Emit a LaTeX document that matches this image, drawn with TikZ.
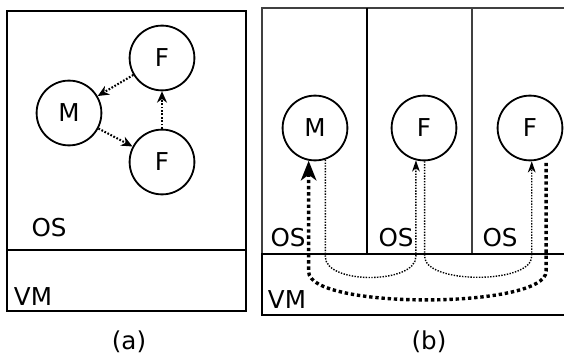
\documentclass[tikz,border=0pt]{standalone}
\usepackage{fontspec}
\setmainfont{DejaVu Sans}
\usetikzlibrary{arrows.meta,calc}

\tikzset{
  proc/.style={draw, circle, line width=1.3pt, minimum size=1.62cm, inner sep=0pt},
  msg/.style={line width=1.5pt, dash pattern=on 1.2pt off 1.2pt, -{Stealth[length=8pt,width=7pt,inset=2.5pt]}},
  thinmsg/.style={line width=1pt, dash pattern=on 1pt off 1pt, -{Stealth[length=8pt,width=5.5pt,inset=2.5pt]}},
  bigmsg/.style={line width=2.4pt, dash pattern=on 2.4pt off 2pt, -{Stealth[length=14pt,width=11pt,inset=4pt]}}
}

\begin{document}
\begin{tikzpicture}[x=0.025cm, y=-0.025cm, font=\fontsize{17.5}{20}\selectfont]
\useasboundingbox (0,0) rectangle (564,354);
% Panel (a): one OS on one VM
\draw[line width=1.2pt] (7,11) rectangle (246,311);
\draw[line width=1.2pt] (7,250) -- (246,250);
\node (osa) at (49,228) {OS};
\node (vma) at (33,297) {VM};
\node (capa) at (129,342) {(a)};
% Processes
\node[proc] (m1) at (69,113) {M};
\node[proc] (f1) at (162,58) {F};
\node[proc] (f2) at (162,162) {F};
\draw[msg] (f1) -- (m1);
\draw[msg] (m1) -- (f2);
\draw[msg] (f2) -- (f1);

% Panel (b): three OS on one VM
\draw[line width=0.8pt, black!75] (262,254) -- (262,8) -- (566,8);
\draw[line width=0.8pt] (367,8) -- (367,254);
\draw[line width=0.8pt, black!75] (472,8) -- (472,254);
\draw[line width=2pt] (566,254) -- (262,254) -- (262,315) -- (566,315);
\node (osb1) at (288,238) {OS};
\node (osb2) at (396,238) {OS};
\node (osb3) at (500,238) {OS};
\node (vmb) at (287,300) {VM};
\node (capb) at (429,342) {(b)};
% Processes
\node[proc] (m2) at (315,128) {M};
\node[proc] (f3) at (424,128) {F};
\node[proc] (f4) at (530,128) {F};
% Messages through the VM
\draw[thinmsg] (m2.-72) -- ++(0,97) .. controls +(0,28) and +(0,28) .. ($(f3.-104)+(0,96)$) -- (f3.-104);
\draw[thinmsg] (f3.-89) -- ++(0,95) .. controls +(0,28) and +(0,28) .. ($(f4.-87)+(0,95)$) -- (f4.-87);
\draw[bigmsg, shorten <=4pt] (f4.-61) -- ++(0,114) .. controls +(0,38) and +(0,38) .. ($(m2.-101)+(0,111)$) -- (m2.-101);
\end{tikzpicture}
\end{document}
